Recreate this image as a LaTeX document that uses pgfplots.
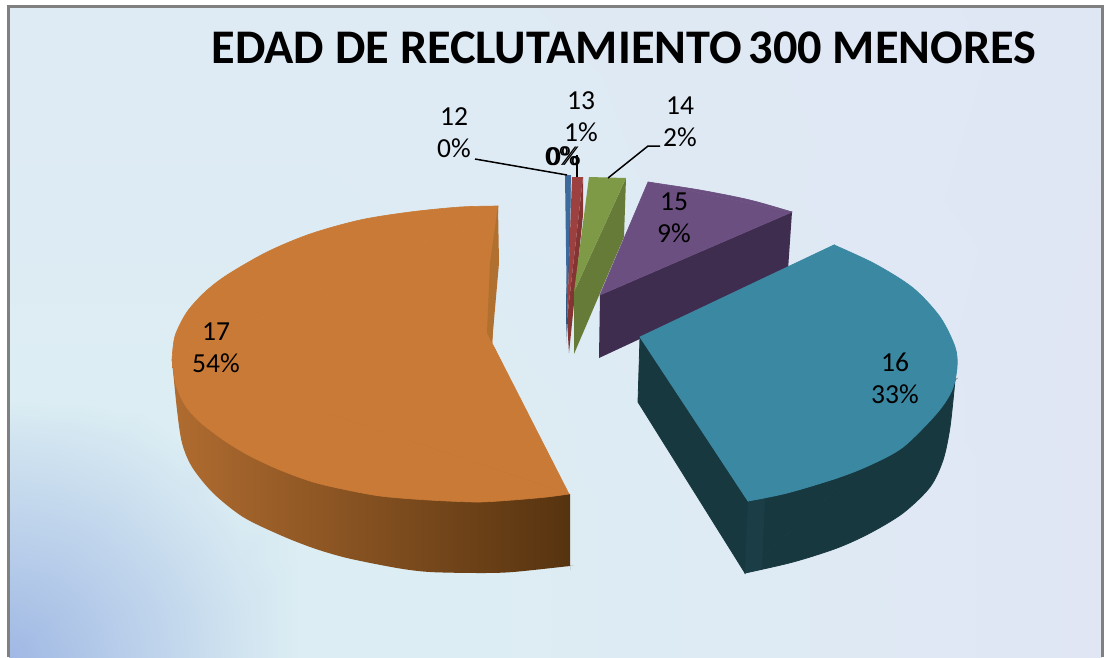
\documentclass[border=0pt]{standalone}
\usepackage{pgfplots}
\pgfplotsset{compat=1.18}
\usepackage{fontspec}
\setmainfont{Carlito}

% face / side colours of the slices
\definecolor{frame}{HTML}{808080}
\definecolor{blueT}{HTML}{3D6A9C}
\definecolor{blueS}{HTML}{2F5580}
\definecolor{redT}{HTML}{9C4140}
\definecolor{redS}{HTML}{843433}
\definecolor{greenT}{HTML}{7F9A47}
\definecolor{greenS}{HTML}{657B37}
\definecolor{purT}{HTML}{6B4F80}
\definecolor{purS}{HTML}{3F2D50}
\definecolor{tealT}{HTML}{3B88A2}
\definecolor{tealS}{HTML}{18383F}
\definecolor{tealL}{HTML}{1B3D46}
\definecolor{oraT}{HTML}{C87A36}
\definecolor{oraD}{HTML}{B07030}
\definecolor{oraL}{HTML}{B06C30}
\definecolor{oraR}{HTML}{54320F}

\newcommand{\lab}{\fontsize{27.5}{32}\selectfont}

\begin{document}
\begin{tikzpicture}
\begin{axis}[
    width=1104pt, height=657pt, scale only axis,
    xmin=0, xmax=1104, ymin=0, ymax=657,
    y dir=reverse,
    hide axis,
    no markers,
    colormap={bgmap}{rgb255=(160,184,228) rgb255=(220,238,243) rgb255=(222,234,244) rgb255=(224,230,244)},
    point meta min=0, point meta max=3,
]
% page
\addplot[fill=white, draw=none] coordinates {(0,0) (1104,0) (1104,657) (0,657)} --cycle;

% background gradient
\addplot[surf, shader=interp, mesh/cols=9, point meta=\thisrow{c}] table {
x y c
9 7 2
60 7 2
120 7 2
180 7 2
240 7 2
300 7 2
420 7 2
700 7 2.3
1102 7 2.8
9 200 1.7
60 200 1.7
120 200 1.7
180 200 1.7
240 200 1.7
300 200 1.7
420 200 1.8
700 200 2.2
1102 200 2.9
9 360 1.2
60 360 1.2
120 360 1.2
180 360 1.2
240 360 1.2
300 360 1.2
420 360 1.2
700 360 2
1102 360 3
9 440 0.8
60 440 0.82
120 440 0.88
180 440 0.99
240 440 1
300 440 1
420 440 1
700 440 1.9
1102 440 3
9 500 0.58
60 500 0.61
120 500 0.69
180 500 0.83
240 500 0.98
300 500 1
420 500 1
700 500 1.8
1102 500 3
9 560 0.36
60 560 0.4
120 560 0.53
180 560 0.69
240 560 0.87
300 560 1
420 560 1
700 560 1.8
1102 560 3
9 610 0.17
60 610 0.25
120 610 0.42
180 610 0.61
240 610 0.81
300 610 1
420 610 1
700 610 1.8
1102 610 3
9 657 0
60 657 0.18
120 657 0.38
180 657 0.59
240 657 0.8
300 657 1
420 657 1
700 657 1.8
1102 657 3
};

% frame
\addplot[frame, line width=2.5pt] coordinates {(8.5,657) (8.5,6.5) (1102.5,6.5) (1102.5,657)};

% slice 12
\addplot[fill=blueS, draw=none] coordinates {(571,175) (570,240) (566,343) (566,300)} --cycle;
\addplot[fill=blueT, draw=none] coordinates {(565,175) (571,175) (567,320)} --cycle;
% slice 13
\addplot[fill=redS, draw=none] coordinates {(583,177) (583,215) (569,353) (567,320)} --cycle;
\addplot[fill=redT, draw=none] coordinates {(572,177) (583,177) (567,320)} --cycle;
% slice 14
\addplot[fill=greenS, draw=none] coordinates {(626,178) (624,237) (574,354) (574,292)} --cycle;
\addplot[fill=greenT, draw=none] coordinates {(589,177) (626,178) (574,292)} --cycle;
% slice 15
\addplot[fill=purS, draw=none] coordinates {(600,295) (792,212) (788,270) (599,358)} --cycle;
\addplot[fill=purT, draw=purT, line width=0.6pt] coordinates {(600,295) (648,182) (792,212)} --cycle;
\addplot[fill=purT, draw=purT, line width=0.6pt, smooth] coordinates {(648,182) (700,190) (750,200) (792,212)};

% slice 17, side then face
\addplot[left color=oraL, right color=oraR, draw=none, smooth] coordinates {
    (172,360) (177,410) (182,443) (192,467) (213,493) (243,517) (280,535) (313,548) (347,558)
    (397,568) (430,572) (480,573) (513,572) (570,566) (570,566) (570,566) (570,494)};
\addplot[fill=oraT, draw=oraT, line width=0.6pt] coordinates {(492,343) (569,494) (172,360) (498,206)} --cycle;
\addplot[fill=oraT, draw=oraT, line width=0.6pt, smooth] coordinates {
    (569,494) (547,497) (513,500) (480,502) (447,501) (413,499) (380,496) (347,490) (313,482)
    (280,470) (250,456) (225,441) (200,422) (185,405) (176,385) (172,360)};
\addplot[fill=oraT, draw=oraT, line width=0.6pt, smooth] coordinates {
    (172,360) (175,336) (187,312) (205,292) (227,275) (267,252) (310,234) (360,220) (410,212) (460,207) (498,206)};
\addplot[fill=oraD, draw=none] coordinates {(498,206) (499,263) (492,343) (487,333) (490,263)} --cycle;

% slice 16, side then face
\addplot[fill=tealS, draw=tealS, line width=0.8pt] coordinates {(640,337) (748,501) (745,573) (638,402)} --cycle;
\addplot[fill=tealS, draw=tealS, line width=0.8pt] coordinates {(955,380) (745,573) (748,501)} --cycle;
\addplot[fill=tealS, draw=tealS, line width=0.8pt, smooth] coordinates {
    (955,380) (950,427) (943,460) (930,487) (903,513) (870,533) (837,548) (793,562) (745,573)};
\addplot[fill=tealL, draw=none] coordinates {(748,501) (765,498) (762,569) (745,573)} --cycle;
\addplot[fill=tealT, draw=tealT, line width=0.8pt] coordinates {(640,337) (834,245) (748,501)} --cycle;
\addplot[fill=tealT, draw=tealT, line width=0.8pt, smooth] coordinates {
    (834,245) (875,264) (913,288) (940,317) (955,347) (957,367) (952,390) (937,413)
    (903,447) (870,465) (837,478) (787,493) (748,501)};

% leader lines
\addplot[black, line width=1.5pt] coordinates {(475,159) (567,175)};
\addplot[black, line width=1.5pt] coordinates {(577,155) (577,177)};
\addplot[black, line width=1.5pt] coordinates {(608,178) (648,146) (660,146)};

% title and labels
\node[font=\fontsize{48.3}{48}\selectfont\bfseries] at (axis cs:624,47.5) {EDAD DE RECLUTAMIENTO\kern-4pt{} 300 MENORES};
\node[font=\lab, align=center] at (axis cs:454,133) {12\\0\%};
\node[font=\lab, align=center] at (axis cs:581,117) {13\\1\%};
\node[font=\lab, align=center] at (axis cs:680,122) {14\\2\%};
\node[font=\lab, align=center] at (axis cs:674,218) {15\\9\%};
\node[font=\lab, align=center] at (axis cs:895,378) {16\\33\%};
\node[font=\lab, align=center] at (axis cs:216,348) {17\\54\%};
\node[font=\lab] at (axis cs:562,156) {0\%};
\node[font=\lab] at (axis cs:564,156) {0\%};
\end{axis}
\end{tikzpicture}
\end{document}
